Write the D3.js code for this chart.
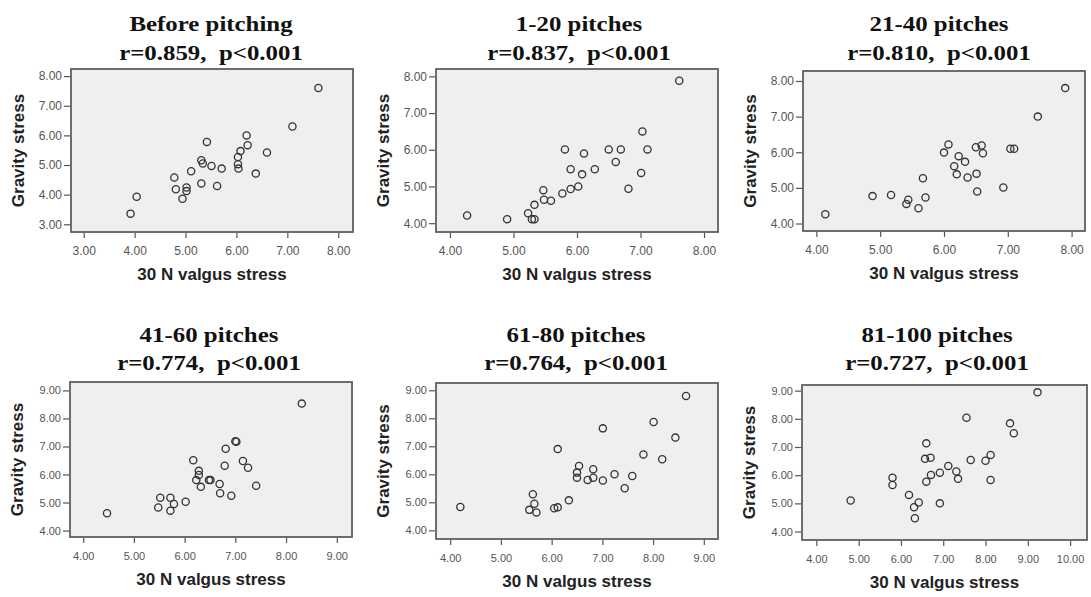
<!DOCTYPE html>
<html><head><meta charset="utf-8">
<script src="https://cdn.jsdelivr.net/npm/d3@7"></script>
<style>
body{margin:0;background:#fff}
svg{display:block}
.title{font-family:"Liberation Serif","Times New Roman",serif;font-weight:bold;font-size:22px;fill:#111;white-space:pre}
.atitle{font-family:"Liberation Sans",Arial,sans-serif;font-weight:bold;font-size:17px;fill:#222}
.tick text{font-family:"Liberation Sans",Arial,sans-serif;fill:#555}
.tick line{stroke:#555}
</style>
</head><body>
<svg id="c" width="1091" height="597"></svg>
<script>
// ---- data ----
const titles = ["Before pitching","1-20 pitches","21-40 pitches","41-60 pitches","61-80 pitches","81-100 pitches"];
const rValues = ["0.859","0.837","0.810","0.774","0.764","0.727"];
const pText = "p<0.001";
const xAxisTitle = "30 N valgus stress";
const yAxisTitle = "Gravity stress";

const xTicks1 = [3,4,5,6,7,8];
const yTicks1 = [3,4,5,6,7,8];
const xTicks2 = [4,5,6,7,8];
const yTicks2 = [4,5,6,7,8];
const xTicks3 = [4,5,6,7,8];
const yTicks3 = [4,5,6,7,8];
const xTicks4 = [4,5,6,7,8,9];
const yTicks4 = [4,5,6,7,8,9];
const xTicks5 = [4,5,6,7,8,9];
const yTicks5 = [4,5,6,7,8,9];
const xTicks6 = [4,5,6,7,8,9,10];
const yTicks6 = [4,5,6,7,8,9];

const beforeX = [7.61,7.10,6.20,6.22,6.08,6.03,6.03,6.04,6.60,6.38,5.42,5.31,5.34,5.51,5.71,5.11,5.31,5.62,4.78,4.81,5.02,5.02,4.94,4.04,3.92];
const beforeY = [7.60,6.30,6.00,5.67,5.47,5.27,5.03,4.88,5.42,4.71,5.78,5.16,5.05,4.97,4.88,4.79,4.38,4.29,4.58,4.18,4.24,4.12,3.86,3.93,3.36];

const p1_20X = [7.61,7.03,7.11,7.01,6.81,6.50,6.69,6.61,6.28,6.08,6.11,5.81,5.90,6.02,5.90,5.77,5.47,5.48,5.59,5.33,5.23,5.29,5.33,4.90,4.27];
const p1_20Y = [7.88,6.50,6.01,5.37,4.94,6.01,6.01,5.67,5.47,5.33,5.90,6.01,5.47,5.00,4.93,4.81,4.90,4.64,4.61,4.50,4.27,4.11,4.11,4.11,4.21];

const p21_40X = [7.90,7.47,7.04,7.10,6.93,6.59,6.50,6.61,6.51,6.52,6.37,6.33,6.23,6.16,6.20,6.07,6.00,5.67,5.71,5.60,5.44,5.41,5.17,4.88,4.14];
const p21_40Y = [7.80,7.00,6.10,6.10,5.01,6.19,6.14,5.97,5.40,4.90,5.29,5.73,5.89,5.61,5.38,6.22,5.99,5.27,4.73,4.43,4.67,4.55,4.80,4.77,4.26];

const p41_60X = [8.31,7.00,7.02,6.81,6.79,7.15,7.25,7.41,6.17,6.28,6.28,6.23,6.32,6.51,6.48,6.69,6.70,6.92,6.02,5.52,5.72,5.79,5.48,5.72,4.47];
const p41_60Y = [8.53,7.19,7.17,6.92,6.31,6.48,6.24,5.60,6.51,6.13,5.98,5.80,5.56,5.80,5.80,5.66,5.33,5.24,5.03,5.17,5.17,4.95,4.82,4.71,4.62];

const p61_80X = [8.65,8.01,8.44,7.81,8.18,7.01,6.12,7.59,7.24,7.44,7.01,6.82,6.82,6.71,6.54,6.50,6.50,6.34,6.12,6.05,5.63,5.66,5.56,5.70,4.20];
const p61_80Y = [8.80,7.87,7.31,6.71,6.54,7.64,6.90,5.94,6.00,5.50,5.78,6.18,5.88,5.80,6.30,6.06,5.88,5.07,4.82,4.79,5.29,4.95,4.73,4.64,4.83];

const p81_100X = [9.23,8.58,8.67,7.55,8.12,8.00,8.12,7.65,7.12,7.31,7.35,6.92,6.71,6.60,6.60,6.57,6.70,6.92,6.42,6.31,6.33,6.19,5.80,5.80,4.81];
const p81_100Y = [8.94,7.84,7.49,8.04,6.72,6.51,5.83,6.54,6.33,6.13,5.87,6.09,6.01,5.77,7.13,6.58,6.62,5.00,5.03,4.86,4.47,5.30,5.91,5.65,5.10];

// ---- layout ----
const panels = [
  {xs:beforeX, ys:beforeY, xt:xTicks1, yt:yTicks1, fx:[71,353], fy:[69,232], xd:[2.75,8.29], yd:[2.74,8.24], tcx:211, tb:[30.5,60], fs:12},
  {xs:p1_20X, ys:p1_20Y, xt:xTicks2, yt:yTicks2, fx:[436,718], fy:[69,232], xd:[3.78,8.22], yd:[3.76,8.20], tcx:579, tb:[30.5,60], fs:12},
  {xs:p21_40X, ys:p21_40Y, xt:xTicks3, yt:yTicks3, fx:[803,1085], fy:[71,231], xd:[3.79,8.21], yd:[3.79,8.28], tcx:939, tb:[30.5,60], fs:12},
  {xs:p41_60X, ys:p41_60Y, xt:xTicks4, yt:yTicks4, fx:[70,352], fy:[382,537], xd:[3.74,9.30], yd:[3.77,9.30], tcx:209, tb:[342,370], fs:11},
  {xs:p61_80X, ys:p61_80Y, xt:xTicks5, yt:yTicks5, fx:[436,718], fy:[383,539], xd:[3.72,9.28], yd:[3.69,9.26], tcx:576, tb:[342,370], fs:11},
  {xs:p81_100X, ys:p81_100Y, xt:xTicks6, yt:yTicks6, fx:[802,1087], fy:[385,540], xd:[3.66,10.40], yd:[3.70,9.20], tcx:937, tb:[342,370], fs:11}
];

const svg = d3.select("#c");
const fmt = d3.format(".2f");

panels.forEach((p, i) => {
  const g = svg.append("g");
  const x = d3.scaleLinear().domain(p.xd).range(p.fx);
  const y = d3.scaleLinear().domain(p.yd).range([p.fy[1], p.fy[0]]);

  // titles
  const t1 = g.append("text").attr("class","title").attr("text-anchor","middle")
    .attr("transform",`translate(${p.tcx},${p.tb[0]}) scale(1.13,1)`).text(titles[i]);
  g.append("text").attr("class","title").attr("text-anchor","middle")
    .attr("transform",`translate(${p.tcx},${p.tb[1]}) scale(1.13,1)`)
    .text(`r=${rValues[i]},  ${pText}`);

  // plot frame
  g.append("rect").attr("x",p.fx[0]).attr("y",p.fy[0])
    .attr("width",p.fx[1]-p.fx[0]).attr("height",p.fy[1]-p.fy[0])
    .attr("fill","#efefef").attr("stroke","#5f5f5f").attr("stroke-width",1.8);

  // axes
  const xa = g.append("g").attr("transform",`translate(0,${p.fy[1]+1})`)
    .call(d3.axisBottom(x).tickValues(p.xt).tickFormat(fmt).tickSize(5).tickPadding(p.fs===12?8:9));
  xa.select(".domain").remove();
  xa.selectAll("text").style("font-size",p.fs+"px");
  xa.selectAll("line").attr("stroke-width",1.2);

  const ya = g.append("g").attr("transform",`translate(${p.fx[0]-1},0)`)
    .call(d3.axisLeft(y).tickValues(p.yt).tickFormat(fmt).tickSize(6).tickPadding(2));
  ya.select(".domain").remove();
  ya.selectAll("text").style("font-size",p.fs+"px");
  ya.selectAll("line").attr("stroke-width",1.2);

  // axis titles
  g.append("text").attr("class","atitle").attr("text-anchor","middle")
    .attr("x",(p.fx[0]+p.fx[1])/2).attr("y",p.fy[1]+48).text(xAxisTitle);
  g.append("text").attr("class","atitle").attr("text-anchor","middle")
    .attr("transform",`translate(${p.fx[0]-47},${(p.fy[0]+p.fy[1])/2}) rotate(-90)`).text(yAxisTitle);

  // points
  g.append("g").selectAll("circle").data(p.xs.map((v,k)=>[v,p.ys[k]])).join("circle")
    .attr("cx",d=>x(d[0])).attr("cy",d=>y(d[1])).attr("r",3.6)
    .attr("fill","none").attr("stroke","#333").attr("stroke-width",1.3);
});
</script>
</body></html>
